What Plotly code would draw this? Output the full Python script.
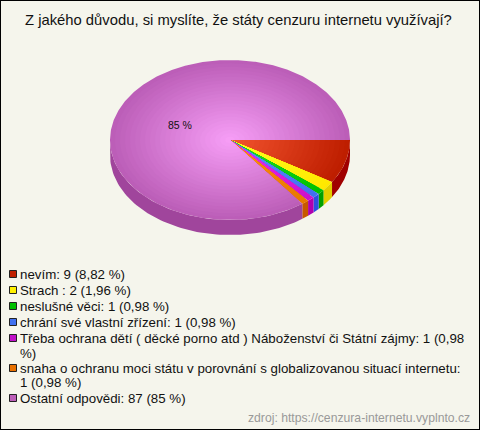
import numpy as np
import plotly.graph_objects as go

values = [9, 2, 1, 1, 1, 1, 87]
slice_label = "85 %"
legend_lines = ["nevím: 9 (8,82 %)", "Strach : 2 (1,96 %)", "neslušné věci: 1 (0,98 %)",
                "chrání své vlastní zřízení: 1 (0,98 %)",
                "Třeba ochrana dětí ( děcké porno atd ) Náboženství či Státní zájmy: 1 (0,98",
                "%)",
                "snaha o ochranu moci státu v porovnání s globalizovanou situací internetu:",
                "1 (0,98 %)",
                "Ostatní odpovědi: 87 (85 %)"]
inner = ["#F45530", "#FFFF20", "#20E030", "#6090FF", "#F030F0", "#FF9010", "#F8A0F8"]
outer = ["#BE1E00", "#FFE800", "#00C000", "#4070F0", "#CC10CC", "#E87800", "#BC5EB8"]
wall = ["#A00000", "#E2CE00", "#00A000", "#2C50E0", "#B000B0", "#C85800", "#A0459C"]
swatch = ["#C02000", "#FFF000", "#00C000", "#4070F0", "#C010C8", "#E87000", "#BC5EB8"]
title = "Z jakého důvodu, si myslíte, že státy cenzuru internetu využívají?"
source = "zdroj: https://cenzura-internetu.vyplnto.cz"

BG = "#F5F5EC"
cx, cy, rx, ry, depth = 230, 140, 120, 80, 15
swatch_y = [274, 290, 306, 322, 338, 368, 398]
text_y = [274, 290, 306, 322, 338, 353, 368, 382, 398]

fig = go.Figure()
total = sum(values)
edges = np.concatenate([[0], np.cumsum(values)]) / total * 2 * np.pi

# side walls
for i in range(len(values)):
    a0, a1 = edges[i], min(edges[i + 1], np.pi)
    if a0 >= np.pi:
        continue
    t = np.linspace(a0, a1, 80)
    xs = cx + rx * np.cos(t)
    ys = cy + ry * np.sin(t)
    fig.add_trace(go.Scatter(
        x=np.concatenate([xs, xs[::-1]]), y=np.concatenate([ys, ys[::-1] + depth]),
        mode="lines", line=dict(width=0), fill="toself", fillcolor=wall[i], hoverinfo="skip"))

# top face, layered so the shading falls off radially from the centre
layers = 24
for i in range(len(values)):
    t = np.linspace(edges[i], edges[i + 1], max(4, int(values[i] * 6)))
    base = np.array([int(outer[i][k:k + 2], 16) for k in (1, 3, 5)])
    top = np.array([int(inner[i][k:k + 2], 16) for k in (1, 3, 5)])
    for l in range(layers):
        f = 1 - l / layers
        c = (top + (base - top) * f).round().astype(int)
        xs = np.concatenate([[cx], cx + f * rx * np.cos(t), [cx]])
        ys = np.concatenate([[cy], cy + f * ry * np.sin(t), [cy]])
        fig.add_trace(go.Scatter(
            x=xs, y=ys, mode="lines", line=dict(width=0), fill="toself",
            fillcolor=f"rgb({c[0]},{c[1]},{c[2]})", hoverinfo="skip"))

# legend swatches
fig.add_trace(go.Scatter(
    x=[13] * len(values), y=swatch_y,
    mode="markers", hoverinfo="skip",
    marker=dict(symbol="square", size=7, color=swatch, line=dict(color="#222222", width=1))))

for s, yy in zip(legend_lines, text_y):
    fig.add_annotation(x=18, y=yy, text=s, showarrow=False, xanchor="left", yanchor="middle",
                       align="left", font=dict(family="Liberation Sans", size=13.3, color="#111111"))

fig.add_annotation(x=180, y=125, text=slice_label, showarrow=False,
                   font=dict(family="Liberation Sans", size=10.5, color="#111111"))
fig.add_annotation(x=238, y=20, text=title, showarrow=False,
                   font=dict(family="Liberation Sans", size=14.8, color="#111111"))
fig.add_annotation(x=472, y=418, text=source, showarrow=False, xanchor="right",
                   font=dict(family="Liberation Sans", size=12.2, color="#999999"))

fig.update_layout(
    width=480, height=430, margin=dict(l=0, r=0, t=0, b=0), autosize=False,
    paper_bgcolor=BG, plot_bgcolor=BG, showlegend=False,
    xaxis=dict(range=[0, 480], visible=False, fixedrange=True),
    yaxis=dict(range=[430, 0], visible=False, fixedrange=True),
    shapes=[dict(type="rect", xref="paper", yref="paper", x0=0, y0=0, x1=1, y1=1,
                 line=dict(color="#000000", width=2))],
)
fig.write_html("out.html", config={"displayModeBar": False},
               post_script="document.body.style.margin='0';document.body.style.overflow='hidden';")
